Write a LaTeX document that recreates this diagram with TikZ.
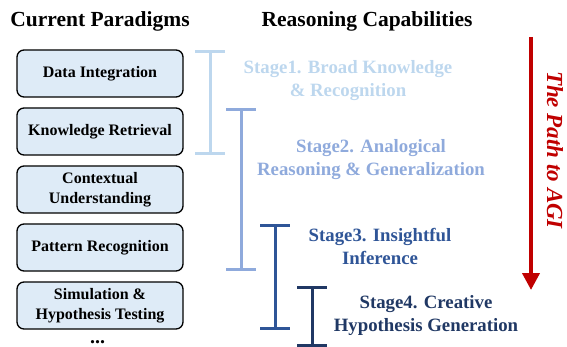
\documentclass[tikz,border=0pt]{standalone}
\usepackage{fontspec}
\setmainfont{Liberation Serif}
\usetikzlibrary{calc,positioning,arrows.meta}

\definecolor{boxfill}{HTML}{DEEBF7}
\definecolor{stageone}{HTML}{BDD7EE}
\definecolor{stagetwo}{HTML}{8FAADC}
\definecolor{stagethree}{HTML}{2F5597}
\definecolor{stagefour}{HTML}{203864}
\definecolor{pathred}{HTML}{C00000}

\begin{document}
\begin{tikzpicture}[x=1pt, y=-1pt,
  paradigm/.style={rectangle, rounded corners=7pt, draw, line width=1.3pt, fill=boxfill,
    minimum width=166pt, minimum height=47pt, align=center,
    font=\bfseries\fontsize{16}{19.5}\selectfont},
  heading/.style={font=\bfseries\fontsize{21.5}{25}\selectfont},
  stagetext/.style={align=center, font=\bfseries\fontsize{18.8}{23}\selectfont},
  bar/.style={line width=3pt}]
\useasboundingbox (0,0) rectangle (567,347);

\node[heading] (curr) at (100,21) {Current Paradigms};
\node[heading] (reas) at (367,21) {Reasoning Capabilities};

\node[paradigm] (p1) at (100,73.5) {Data Integration};
\node[paradigm, below=9.7pt of p1] (p2) {Knowledge Retrieval};
\node[paradigm, below=9.7pt of p2] (p3) {Contextual\\Understanding};
\node[paradigm, below=9.7pt of p3] (p4) {Pattern Recognition};
\node[paradigm, below=9.7pt of p4] (p5) {Simulation \&\\Hypothesis Testing};
\node[anchor=base, inner sep=0pt, font=\bfseries\fontsize{20}{24}\selectfont] (dots) at (97.5,343.5) {...};

\coordinate (b1t) at (210,52);
\coordinate (b1b) at (210,154);
\coordinate (b2t) at (241,110);
\coordinate (b2b) at (241,269);
\coordinate (b3t) at (275,226);
\coordinate (b3b) at (275,328);
\coordinate (b4t) at (312,287);
\coordinate (b4b) at (312,345);

\draw[bar, stageone] (b1t) -- (b1b);
\draw[bar, stageone] ($(b1t)+(-15,0)$) -- ++(30,0);
\draw[bar, stageone] ($(b1b)+(-15,0)$) -- ++(30,0);

\draw[bar, stagetwo] (b2t) -- (b2b);
\draw[bar, stagetwo] ($(b2t)+(-15,0)$) -- ++(30,0);
\draw[bar, stagetwo] ($(b2b)+(-15,0)$) -- ++(30,0);

\draw[bar, stagethree] (b3t) -- (b3b);
\draw[bar, stagethree] ($(b3t)+(-15,0)$) -- ++(30,0);
\draw[bar, stagethree] ($(b3b)+(-15,0)$) -- ++(30,0);

\draw[bar, stagefour] (b4t) -- (b4b);
\draw[bar, stagefour] ($(b4t)+(-15,0)$) -- ++(30,0);
\draw[bar, stagefour] ($(b4b)+(-15,0)$) -- ++(30,0);

\node[stagetext, text=stageone] (s1) at (348,81) {Stage1. Broad Knowledge\\\& Recognition};
\node[stagetext, text=stagetwo] (s2) at (371,159.5) {Stage2. Analogical\\Reasoning \& Generalization};
\node[stagetext, text=stagethree] (s3) at (380,246.5) {Stage3. Insightful\\Inference};
\node[stagetext, text=stagefour] (s4) at (426,315.5) {Stage4. Creative\\Hypothesis Generation};

\coordinate (agitop) at (531,37);
\coordinate (agibot) at (531,290);
\draw[pathred, line width=4pt, -{Triangle[width=17pt,length=17pt]}] (agitop) -- (agibot);
\node[text=pathred, rotate=-90, font=\bfseries\itshape\fontsize{23}{27}\selectfont] (path) at (555,150) {The Path to AGI};

\end{tikzpicture}
\end{document}
